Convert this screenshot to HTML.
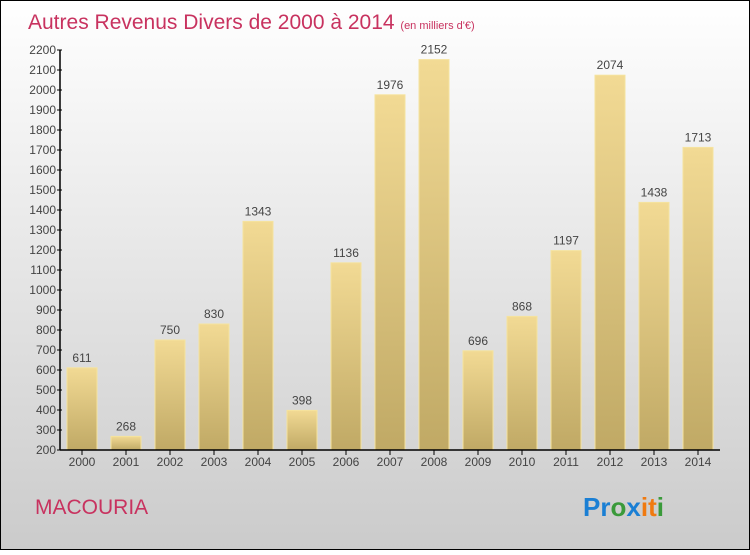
<!DOCTYPE html>
<html><head><meta charset="utf-8"><style>
body{margin:0;width:750px;height:550px;overflow:hidden;font-family:"Liberation Sans",sans-serif}
</style></head><body>
<svg width="750" height="550" xmlns="http://www.w3.org/2000/svg">
<defs>
<linearGradient id="bg" x1="0" y1="0" x2="0" y2="1"><stop offset="0" stop-color="#ffffff"/><stop offset="1" stop-color="#cbcbcb"/></linearGradient>
<linearGradient id="bar" x1="0" y1="0" x2="0" y2="1"><stop offset="0" stop-color="#f2da94"/><stop offset="1" stop-color="#c0a965"/></linearGradient>
</defs>
<rect x="0.5" y="0.5" width="749" height="549" fill="url(#bg)" stroke="#000"/>
<text x="28" y="29" font-size="21" fill="#c8325f">Autres Revenus Divers de 2000 à 2014 <tspan font-size="11">(en milliers d'€)</tspan></text>
<g id="yaxis"></g>
<g id="bars"></g>
<g id="xaxis"></g>
<text x="35" y="514" font-size="21" fill="#c8325f">MACOURIA</text>
<g font-size="26" font-weight="bold">
<text x="583" y="516"><tspan fill="#1a7fd4">Pr</tspan><tspan fill="#3a9a3a">o</tspan><tspan fill="#1a7fd4">x</tspan><tspan fill="#f07a10">i</tspan><tspan fill="#f07a10">t</tspan><tspan fill="#3a9a3a">i</tspan></text>
</g>
</svg>
<script>
const categories=["2000","2001","2002","2003","2004","2005","2006","2007","2008","2009","2010","2011","2012","2013","2014"];
const values=[611,268,750,830,1343,398,1136,1976,2152,696,868,1197,2074,1438,1713];
const yTicks=[200,300,400,500,600,700,800,900,1000,1100,1200,1300,1400,1500,1600,1700,1800,1900,2000,2100,2200];
const NS="http://www.w3.org/2000/svg";
const y=v=>450-(v-200)*0.2;
const xc=i=>82+i*44;
function mk(t,a,p,txt){const e=document.createElementNS(NS,t);for(const k in a)e.setAttribute(k,a[k]);if(txt!=null)e.textContent=txt;p.appendChild(e);return e;}
const ya=document.getElementById('yaxis'),ba=document.getElementById('bars'),xa=document.getElementById('xaxis');
mk('line',{x1:60,y1:y(2200),x2:60,y2:450,stroke:'#000','stroke-width':1.5},ya);
yTicks.forEach(t=>{
 const l=mk('line',{x1:57,y1:y(t),x2:62,y2:y(t),stroke:'#000'},ya);
 
 
 const tx=mk('text',{x:56,y:y(t)+4,'font-size':12,fill:'#444','text-anchor':'end'},ya,t);
 
 
});
values.forEach((v,i)=>{
 const r=mk('rect',{x:xc(i)-15,y:y(v),width:30,height:450-y(v),fill:'url(#bar)',stroke:'#f5e39e','stroke-width':1},ba);
 
 
 const t=mk('text',{x:xc(i),y:y(v)-6,'font-size':12,fill:'#444','text-anchor':'middle'},ba,v);
 
 
 const tk=mk('line',{x1:xc(i),y1:450,x2:xc(i),y2:455,stroke:'#000'},xa);
 
 
 const c=mk('text',{x:xc(i),y:466,'font-size':12,fill:'#444','text-anchor':'middle'},xa,categories[i]);
 
 
});
mk('line',{x1:60,y1:450,x2:720,y2:450,stroke:'#000','stroke-width':1.5},xa);
</script>
</body></html>
